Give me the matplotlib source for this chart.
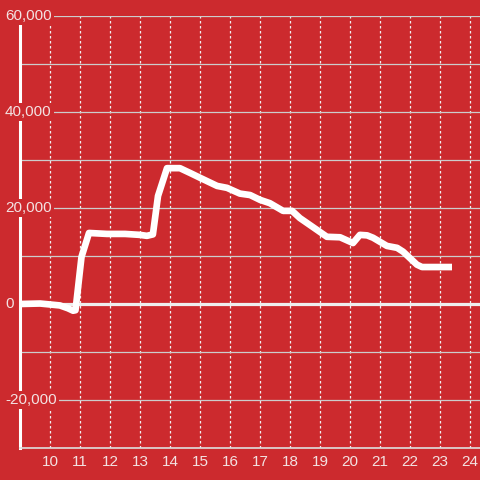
import matplotlib
matplotlib.use("Agg")
import matplotlib.pyplot as plt
import matplotlib.transforms as mtransforms

# data
x_vals = [9.0, 9.67, 10.0, 10.33, 10.6, 10.77, 10.85, 11.05, 11.3, 11.9, 12.5, 13.0, 13.23, 13.43,
          13.6, 13.9, 14.33, 14.67, 15.0, 15.57, 15.9, 16.33, 16.67, 17.0, 17.33, 17.77,
          18.07, 18.33, 18.77, 19.23, 19.67, 20.1, 20.33, 20.57, 20.77, 21.23, 21.57,
          21.77, 22.23, 22.4, 23.4]
y_vals = [0, 100, -100, -300, -900, -1400, -1300, 9800, 14800, 14600, 14600, 14400, 14200, 14500,
          22500, 28300, 28300, 27300, 26300, 24600, 24200, 23000, 22700, 21700, 21000, 19400,
          19400, 17900, 16000, 14000, 13900, 12700, 14400, 14300, 13800, 12100, 11700,
          10900, 8200, 7700, 7700]
x_ticks = list(range(10, 25))
y_grid = list(range(-30000, 60001, 10000))
y_label_vals = [60000, 40000, 20000, 0, -20000]
y_label_text = ["60,000", "40,000", "20,000", "0", "-20,000"]

bg = "#cc2a2e"
txt = "#f3e2e2"

plt.rcParams['font.family'] = ['Liberation Sans', 'DejaVu Sans']

fig = plt.figure(figsize=(4.8, 4.8), dpi=100, facecolor=bg)
ax = fig.add_axes([20/480, 32/480, 460/480, 432/480])
ax.set_facecolor(bg)
ax.set_xlim(9, 9 + 460/30)
ax.set_ylim(-30000, 60000)

for s in ["top", "right"]:
    ax.spines[s].set_visible(False)
ax.spines["left"].set_color("white")
ax.spines["left"].set_linewidth(2.2)
ax.spines["bottom"].set_color("#dddddd")
ax.spines["bottom"].set_linewidth(1.2)

ax.set_xticks(x_ticks)
ax.set_yticks(y_grid)
ax.set_yticklabels([])
ax.tick_params(axis="both", length=0)
ax.tick_params(axis="x", colors=txt, labelsize=11, pad=5)
ax.tick_params(axis="y", labelleft=False)

ax.grid(axis="y", color="#cccccc", linewidth=0.9, linestyle="-", zorder=1)
ax.grid(axis="x", color="#f0f0f0", linewidth=0.9, linestyle=(0, (2, 2)), zorder=1)
ax.set_axisbelow(True)

ax.axhline(0, color="#eeeeee", linewidth=2.3, zorder=2)

trans = mtransforms.blended_transform_factory(fig.transFigure, ax.transData)
for v, t in zip(y_label_vals, y_label_text):
    ax.text(5/480, v, t, transform=trans, ha="left", va="center", fontsize=11,
            color=txt, zorder=4, clip_on=False,
            bbox=dict(facecolor=bg, edgecolor="none", pad=1.5))

ax.plot(x_vals, y_vals, color="white", linewidth=4.8, solid_joinstyle="round",
        solid_capstyle="butt", zorder=5, clip_on=False)

fig.savefig("out.png", dpi=100, facecolor=bg)
